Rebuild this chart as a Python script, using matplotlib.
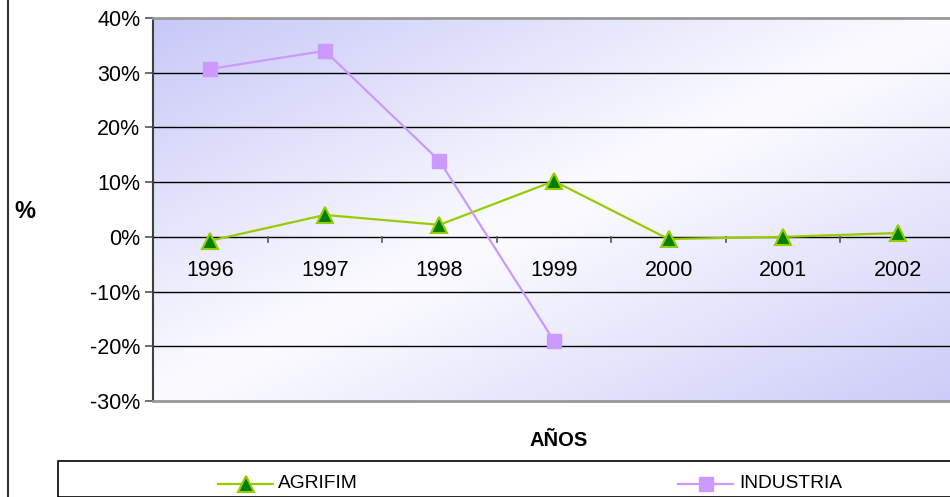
import matplotlib
matplotlib.use("Agg")
import matplotlib.pyplot as plt
import numpy as np
from matplotlib.colors import LinearSegmentedColormap
from matplotlib.lines import Line2D
from matplotlib.patches import Rectangle

years = ["1996", "1997", "1998", "1999", "2000", "2001", "2002"]
agrifim = [-0.7, 4.0, 2.2, 10.2, -0.4, 0.0, 0.7]
industria = [30.7, 34.0, 13.9, -19.0]
yticks = [40, 30, 20, 10, 0, -10, -20, -30]

plt.rcParams['font.family'] = ['Liberation Sans', 'DejaVu Sans']

W, H = 950, 497
fig = plt.figure(figsize=(W / 100, H / 100), dpi=100)
x0, x1, ytop, ybot = 153, 955, 18, 401
ax = fig.add_axes([x0 / W, 1 - ybot / H, (x1 - x0) / W, (ybot - ytop) / H])

# gradient background: lavender at top-left and bottom-right, white in the middle
n = 300
gx, gy = np.meshgrid(np.linspace(0, 1, n), np.linspace(0, 1, n))
t = (gx + gy) / 2  # row 0 = top (origin upper)
cmap = LinearSegmentedColormap.from_list(
    "bg", [(0.0, "#C8C8F8"), (0.5, "#FCFCFF"), (1.0, "#CCCCF8")])
ax.imshow(t, cmap=cmap, extent=[0, 1, 0, 1], transform=ax.transAxes,
          aspect="auto", zorder=0, origin="upper")

xs = np.arange(len(years))
ax.set_xlim(-0.5, len(years) - 0.5)
ax.set_ylim(-30, 40)

for v in yticks:
    if v not in (40, -30):
        ax.axhline(v, color="black", lw=1.0, zorder=1)

# x tick marks at category boundaries along zero line
for b in np.arange(0.5, len(years) - 0.5, 1.0):
    ax.plot([b, b], [0, -0.9], color="#555555", lw=1.2, zorder=1, clip_on=False)
for i, y in enumerate(years):
    ax.text(i, -6.1, y, ha="center", va="center", fontsize=15.5, zorder=3)

ax.plot(xs, agrifim, color="#99CC00", lw=1.6, marker="^", markersize=11,
        markerfacecolor="#008000", markeredgecolor="#99CC00", markeredgewidth=1.5,
        zorder=4, label="AGRIFIM")
ax.plot(xs[:len(industria)], industria, color="#CC99FF", lw=1.6, marker="s",
        markersize=9.5, markerfacecolor="#CC99FF", markeredgecolor="#CC99FF",
        zorder=4, label="INDUSTRIA")

ax.set_xticks([])
ax.set_yticks(yticks)
ax.set_yticklabels([f"{v}%" for v in yticks], fontsize=15.5)
ax.tick_params(axis="y", length=6, width=1.2, color="#555555", pad=3)

ax.spines["right"].set_visible(False)
ax.spines["left"].set_color("#404040")
ax.spines["left"].set_linewidth(1.5)
ax.spines["top"].set_color("#999999")
ax.spines["top"].set_linewidth(2)
ax.spines["bottom"].set_color("#999999")
ax.spines["bottom"].set_linewidth(2)

fig.text(25 / W, 1 - 212 / H, "%", ha="center", va="center", fontsize=17,
         fontweight="bold")
fig.text(559 / W, 1 - 440 / H, "AÑOS", ha="center", va="center", fontsize=14.5,
         fontweight="bold")

# chart area border on left
fig.add_artist(Line2D([7.5 / W, 7.5 / W], [0, 1], color="#333333", lw=1.5))

# legend box
fig.add_artist(Rectangle((58 / W, 0), (960 - 58) / W, 1 - 461 / H,
                         transform=fig.transFigure, fill=False,
                         edgecolor="black", lw=1.2))
ly = 1 - 484 / H
fig.add_artist(Line2D([218 / W, 273 / W], [ly, ly], color="#99CC00", lw=1.6))
fig.add_artist(Line2D([245.5 / W], [ly], marker="^", markersize=11,
                      markerfacecolor="#008000", markeredgecolor="#99CC00",
                      markeredgewidth=1.5))
fig.text(278 / W, ly, "AGRIFIM", ha="left", va="center", fontsize=13.8)
fig.add_artist(Line2D([678 / W, 733 / W], [ly, ly], color="#CC99FF", lw=1.6))
fig.add_artist(Line2D([705.5 / W], [ly], marker="s", markersize=9.5,
                      markerfacecolor="#CC99FF", markeredgecolor="#CC99FF"))
fig.text(739 / W, ly, "INDUSTRIA", ha="left", va="center", fontsize=13.8)

fig.savefig("out.png", dpi=100)
